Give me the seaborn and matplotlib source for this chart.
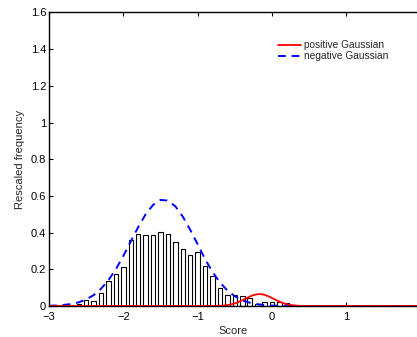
import numpy as np
import pandas as pd
import seaborn as sns
from matplotlib import pyplot as plt

# histogram of scores (bin centres, rescaled frequency)
bin_centres = [-2.6, -2.5, -2.4, -2.3, -2.2, -2.1, -2.0, -1.9, -1.8, -1.7,
               -1.6, -1.5, -1.4, -1.3, -1.2, -1.1, -1.0, -0.9, -0.8, -0.7,
               -0.6, -0.5, -0.4, -0.3, -0.2, -0.1, 0.0, 0.1, 0.2, 0.3]
bin_heights = [0.012, 0.033, 0.029, 0.072, 0.137, 0.174, 0.214, 0.358, 0.394, 0.389,
               0.388, 0.403, 0.390, 0.350, 0.312, 0.276, 0.292, 0.218, 0.166, 0.099,
               0.058, 0.058, 0.056, 0.042, 0.013, 0.024, 0.022, 0.022, 0.018, 0.007]

neg_x = [-3.0, -2.9, -2.8, -2.7, -2.6, -2.5, -2.4, -2.3, -2.2, -2.1,
         -2.0, -1.9, -1.8, -1.7, -1.6, -1.5, -1.4, -1.3, -1.2, -1.1,
         -1.0, -0.9, -0.8, -0.7, -0.6, -0.5, -0.4, -0.3, -0.2, -0.1,
         0.0, 0.1, 0.2, 0.3, 0.4, 1.95]
neg_y = [0.001, 0.003, 0.006, 0.011, 0.020, 0.036, 0.059, 0.094, 0.141, 0.201,
         0.273, 0.352, 0.430, 0.500, 0.551, 0.578, 0.575, 0.543, 0.487, 0.415,
         0.336, 0.255, 0.185, 0.128, 0.084, 0.053, 0.031, 0.018, 0.010, 0.005,
         0.002, 0.001, 0.0, 0.0, 0.0, 0.0]

# positive Gaussian
pos_x = [-3.0, -0.9, -0.8, -0.75, -0.7, -0.65, -0.6, -0.55, -0.5, -0.45,
         -0.4, -0.35, -0.3, -0.25, -0.2, -0.15, -0.1, -0.05, 0.0, 0.05,
         0.1, 0.15, 0.2, 0.25, 0.3, 0.35, 0.4, 0.45, 0.5, 1.95]
pos_y = [0.0, 0.0, 0.0003, 0.0006, 0.0013, 0.0027, 0.005, 0.0088, 0.0144, 0.0219,
         0.0312, 0.0415, 0.0514, 0.0595, 0.0642, 0.0646, 0.0607, 0.0532, 0.0436, 0.0332,
         0.0237, 0.0157, 0.0098, 0.0056, 0.003, 0.0015, 0.0007, 0.0003, 0.0001, 0.0]

hist_df = pd.DataFrame({'score': bin_centres, 'freq': bin_heights})

sns.set_style('white')
plt.rcParams['font.family'] = ['Liberation Sans', 'DejaVu Sans']
plt.rcParams['axes.unicode_minus'] = True

fig = plt.figure(figsize=(4.17, 3.37), dpi=100)
ax = fig.add_axes([0.1175, 0.092, 0.8825, 0.871])

sns.barplot(data=hist_df, x='score', y='freq', native_scale=True, width=0.6,
            color='white', edgecolor='black', linewidth=0.8, ax=ax)
sns.lineplot(x=neg_x, y=neg_y, color='blue', lw=1.4, dashes=False, ax=ax,
             label='negative Gaussian').lines[-1].set_dashes((4, 3))
sns.lineplot(x=pos_x, y=pos_y, color='red', lw=1.3, ax=ax,
             label='positive Gaussian')

ax.set_xlim(-3, 1.95)
ax.set_ylim(0, 1.6)
ax.set_xticks([-3, -2, -1, 0, 1])
ax.set_xticklabels(['\u22123', '\u22122', '\u22121', '0', '1'])
ax.set_yticks([0, 0.2, 0.4, 0.6, 0.8, 1.0, 1.2, 1.4, 1.6])
ax.set_yticklabels(['0', '0.2', '0.4', '0.6', '0.8', '1', '1.2', '1.4', '1.6'])
ax.tick_params(direction='in', length=3, width=0.8, labelsize=8, pad=2,
               top=True, bottom=True, left=True, colors='black')
ax.tick_params(axis='x', pad=4)
ax.spines['right'].set_visible(False)
for s in ['left', 'top', 'bottom']:
    ax.spines[s].set_color('black')
    ax.spines[s].set_linewidth(1.0)

ax.set_xlabel('Score', fontsize=8, labelpad=3)
ax.set_ylabel('Rescaled frequency', fontsize=8, labelpad=4)

h, l = ax.get_legend_handles_labels()
order = [l.index('positive Gaussian'), l.index('negative Gaussian')]
ax.legend([h[i] for i in order], [l[i] for i in order], loc='upper left',
          bbox_to_anchor=(0.658, 0.893), bbox_transform=fig.transFigure,
          frameon=False, fontsize=7.3, handlelength=2.2, handletextpad=0.3,
          labelspacing=0.1, borderaxespad=0)

fig.savefig('out.png', dpi=100)
